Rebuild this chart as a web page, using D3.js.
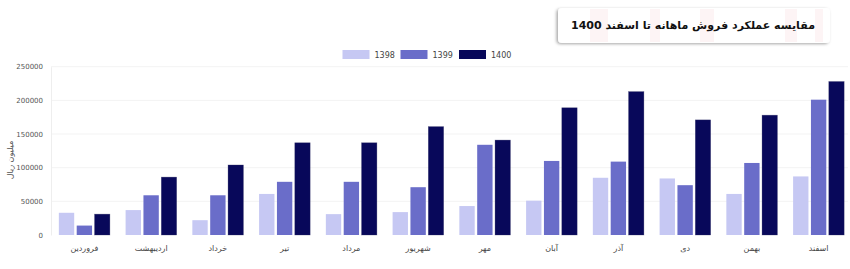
<!DOCTYPE html>
<html>
<head>
<meta charset="utf-8">
<script src="https://cdn.jsdelivr.net/npm/d3@7"></script>
<style>
  body { margin: 0; background: #fff; }
  text { font-family: 'DejaVu Sans', 'Noto Sans', sans-serif; }
  .tick text { fill: #555; font-size: 7px; }
  .x-label { fill: #444; font-size: 8px; }
  .legend-text { fill: #444; font-size: 8px; }
  .main-title { fill: #111; font-size: 11px; font-weight: bold; }
  .y-title { fill: #555; font-size: 8px; }
</style>
</head>
<body>
<div id="chart"></div>
<script>
// Data
let months = ['فروردین', 'اردیبهشت', 'خرداد', 'تیر', 'مرداد', 'شهریور', 'مهر', 'آبان', 'آذر', 'دی', 'بهمن', 'اسفند'];
let years = ['1398', '1399', '1400'];
let sales1398 = [33000, 37000, 22000, 61000, 31000, 34000, 43000, 51000, 85000, 84000, 61000, 87000];
let sales1399 = [14000, 59000, 59000, 79000, 79000, 71000, 134000, 110000, 109000, 74000, 107000, 201000];
let sales1400 = [31000, 86000, 104000, 137000, 137000, 161000, 141000, 189000, 213000, 171000, 178000, 228000];
let yTicks = [0, 50000, 100000, 150000, 200000, 250000];

let colors = ['#c6c8f3', '#6a6dc9', '#08085a'];
let mainTitle = 'مقایسه عملکرد فروش ماهانه تا اسفند 1400';
let yTitle = 'میلیون ریال';

let width = 850, height = 269;
let plot = {left: 51, right: 852, top: 66.7, bottom: 235};

let series = [sales1398, sales1399, sales1400];
let table = months.map((m, i) => ({month: m, values: years.map((y, j) => ({year: y, value: series[j][i]}))}));

let svg = d3.select('#chart')
    .append('svg')
        .attr('width', width)
        .attr('height', height);

// Scales
let x0 = d3.scaleBand()
    .domain(months)
    .range([plot.left, plot.right])
    .paddingInner(0.235)
    .paddingOuter(0.1175);
let x1 = d3.scaleBand()
    .domain(years)
    .range([0, x0.bandwidth()])
    .paddingInner(0.14);
let scY = d3.scaleLinear()
    .domain([0, 250000])
    .range([plot.bottom, plot.top]);

// Faint gridlines
svg.selectAll('line.grid')
    .data(yTicks.slice(1))
    .enter()
    .append('line')
        .attr('class', 'grid')
        .attr('x1', plot.left)
        .attr('x2', plot.right - 4)
        .attr('y1', d => scY(d))
        .attr('y2', d => scY(d))
        .attr('stroke', '#f3f3f3')
        .attr('stroke-width', 1);

// Y axis
let yAxis = d3.axisLeft(scY)
    .tickValues(yTicks)
    .tickSize(0)
    .tickPadding(8)
    .tickFormat(d3.format('d'));
let gy = svg.append('g')
    .attr('class', 'axis y-axis')
    .attr('transform', `translate(${plot.left},0)`)
    .call(yAxis);
gy.select('.domain').attr('stroke', '#eee');

svg.append('text')
    .attr('class', 'y-title')
    .attr('text-anchor', 'middle')
    .attr('transform', 'rotate(-90)')
    .attr('x', -160)
    .attr('y', 13)
    .text(yTitle);

// Bars
let groups = svg.selectAll('g.month')
    .data(table)
    .enter()
    .append('g')
        .attr('class', 'month')
        .attr('transform', d => `translate(${x0(d.month)},0)`);
groups.selectAll('rect')
    .data(d => d.values)
    .enter()
    .append('rect')
        .attr('x', d => x1(d.year))
        .attr('y', d => scY(d.value))
        .attr('width', x1.bandwidth())
        .attr('height', d => scY(0) - scY(d.value))
        .attr('fill', (d, i) => colors[i])
        .attr('stroke', (d, i) => i === 2 ? '#3a3a6a' : 'none')
        .attr('stroke-opacity', 0.5)
        .attr('stroke-width', 0.6);

// X labels
svg.selectAll('text.x-label')
    .data(months)
    .enter()
    .append('text')
        .attr('class', 'x-label')
        .attr('text-anchor', 'middle')
        .attr('x', d => x0(d) + x0.bandwidth() / 2)
        .attr('y', 251)
        .text(d => d);

// Legend
let legendX = [342.5, 400.5, 459];
let legend = svg.selectAll('g.legend')
    .data(years)
    .enter()
    .append('g')
        .attr('class', 'legend')
        .attr('transform', (d, i) => `translate(${legendX[i]},50)`);
legend.append('rect')
    .attr('width', 27)
    .attr('height', 9)
    .attr('fill', (d, i) => colors[i]);
legend.append('text')
    .attr('class', 'legend-text')
    .attr('x', 32)
    .attr('y', 8)
    .text(d => d);

// Title box
let defs = svg.append('defs');
let filt = defs.append('filter').attr('id', 'shadow').attr('x', '-10%').attr('y', '-30%').attr('width', '120%').attr('height', '160%');
filt.append('feDropShadow').attr('dx', -1.5).attr('dy', 1).attr('stdDeviation', 1.6).attr('flood-color', '#000').attr('flood-opacity', 0.35);

let box = svg.append('g');
box.append('rect')
    .attr('x', 558)
    .attr('y', 8)
    .attr('width', 272)
    .attr('height', 35)
    .attr('rx', 4)
    .attr('fill', '#fff')
    .attr('filter', 'url(#shadow)');
// faint pink decoration inside the box
[[590, 18], [650, 10], [700, 14], [785, 12], [815, 8]].forEach(([bx, bw]) => {
    box.append('rect')
        .attr('x', bx).attr('y', 9).attr('width', bw).attr('height', 33)
        .attr('fill', '#fcecee').attr('opacity', 0.6);
});
box.append('text')
    .attr('class', 'main-title')
    .attr('text-anchor', 'middle')
    .attr('x', 693)
    .attr('y', 29)
    .text(mainTitle);
</script>
</body>
</html>
